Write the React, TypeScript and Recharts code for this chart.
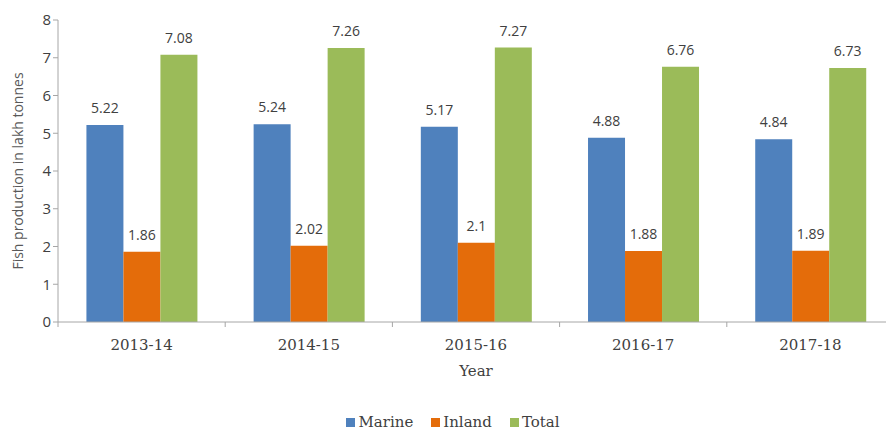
import React from "react";
import {
  BarChart,
  Bar,
  XAxis,
  YAxis,
  Legend,
  LabelList,
} from "recharts";

const years = ["2013-14", "2014-15", "2015-16", "2016-17", "2017-18"];
const marine = [5.22, 5.24, 5.17, 4.88, 4.84];
const inland = [1.86, 2.02, 2.1, 1.88, 1.89];
const total = [7.08, 7.26, 7.27, 6.76, 6.73];
const yTicks = [0, 1, 2, 3, 4, 5, 6, 7, 8];

const series = [
  { key: "marine", name: "Marine", color: "#4F81BD" },
  { key: "inland", name: "Inland", color: "#E46C0A" },
  { key: "total", name: "Total", color: "#9BBB59" },
];

const data = years.map((year, i) => ({
  year,
  marine: marine[i],
  inland: inland[i],
  total: total[i],
}));

const sans = "'Open Sans', 'Noto Sans', sans-serif";
const serif = "'DejaVu Serif', serif";

// Excel-style category ticks: text centred, small marks at the band edges
const CategoryTick = (props: any) => {
  const { x, y, payload, index, visibleTicksCount } = props;
  const half = payload.offset || 0;
  const last = index === visibleTicksCount - 1;
  return (
    <g>
      <line x1={x - half} x2={x - half} y1={y - 8} y2={y - 3} stroke="#a6a6a6" />
      {last && (
        <line x1={x + half} x2={x + half} y1={y - 8} y2={y - 3} stroke="#a6a6a6" />
      )}
      <text
        x={x}
        y={y + 20}
        textAnchor="middle"
        fontFamily={serif}
        fontSize={15}
        fill="#404040"
      >
        {payload.value}
      </text>
    </g>
  );
};

const YTitle = (props: any) => {
  const { viewBox } = props;
  const cx = viewBox.x + 17;
  const cy = viewBox.y + viewBox.height / 2;
  return (
    <text
      x={cx}
      y={cy}
      transform={`rotate(-90, ${cx}, ${cy})`}
      textAnchor="middle"
      dominantBaseline="central"
      fontFamily={sans}
      fontSize={14}
      fill="#595959"
    >
      Fish production in lakh tonnes
    </text>
  );
};

const LegendContent = () => (
  <div
    style={{
      display: "flex",
      justifyContent: "center",
      gap: 18,
      fontFamily: serif,
      fontSize: 15,
      lineHeight: "20px",
      color: "#404040",
      paddingLeft: 12,
    }}
  >
    {series.map((s) => (
      <div key={s.key} style={{ display: "flex", alignItems: "center", gap: 3 }}>
        <div style={{ width: 9, height: 9, background: s.color }} />
        <span>{s.name}</span>
      </div>
    ))}
  </div>
);

export default function App() {
  return (
    <div
      style={{
        position: "absolute",
        left: 0,
        top: 0,
        width: 886,
        height: 432,
        overflow: "hidden",
        background: "#fff",
      }}
    >
      <BarChart
        width={900}
        height={432}
        data={data}
        margin={{ top: 20, right: 6, bottom: 40, left: 0 }}
        barCategoryGap="17%"
        barGap={0}
      >
        <XAxis
          dataKey="year"
          axisLine={{ stroke: "#a6a6a6" }}
          tickLine={false}
          height={50}
          interval={0}
          tick={<CategoryTick />}
          label={{
            value: "Year",
            position: "insideBottom",
            offset: -4,
            fontFamily: serif,
            fontSize: 15,
            fill: "#404040",
          }}
        />
        <YAxis
          domain={[0, 8]}
          ticks={yTicks}
          interval={0}
          width={58}
          axisLine={{ stroke: "#a6a6a6" }}
          tickLine={{ stroke: "#a6a6a6" }}
          tickSize={5}
          tick={{ fontFamily: sans, fontSize: 15, fill: "#404040" }}
          label={<YTitle />}
        />
        <Legend
          verticalAlign="bottom"
          height={20}
          content={<LegendContent />}
          wrapperStyle={{ bottom: 0 }}
        />
        {series.map((s) => (
          <Bar
            key={s.key}
            dataKey={s.key}
            name={s.name}
            fill={s.color}
            isAnimationActive={false}
          >
            <LabelList
              dataKey={s.key}
              position="top"
              offset={12}
              fontFamily={sans}
              fontSize={14}
              fill="#404040"
            />
          </Bar>
        ))}
      </BarChart>
    </div>
  );
}
